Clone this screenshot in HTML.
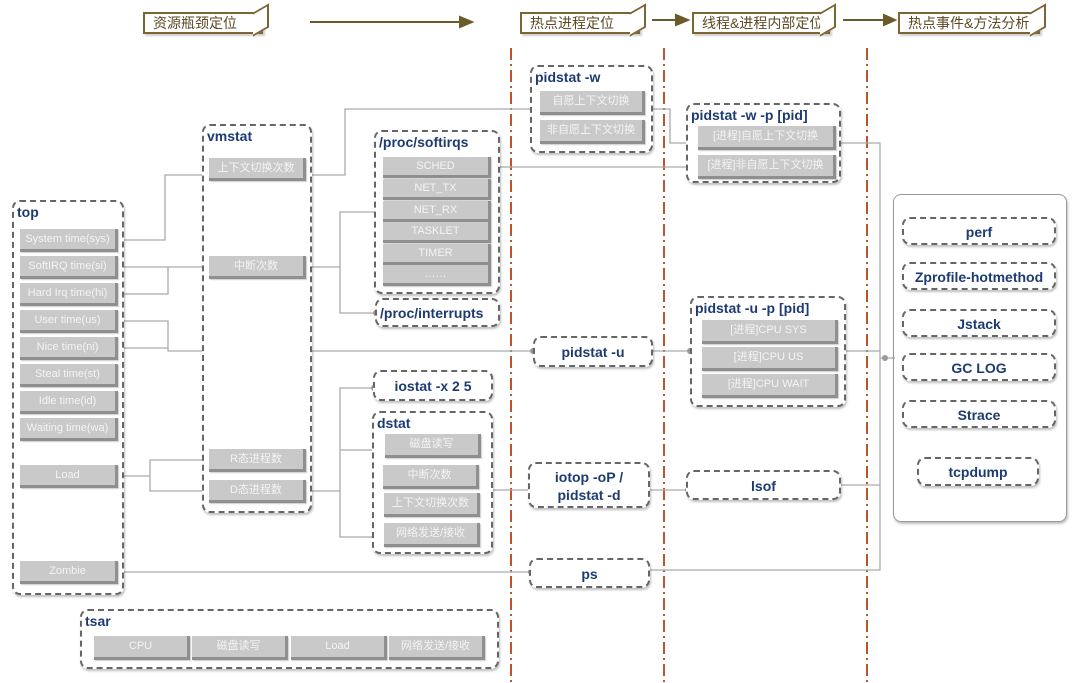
<!DOCTYPE html>
<html><head><meta charset="utf-8"><style>
body{margin:0;width:1080px;height:683px;background:#fff;position:relative;overflow:hidden;font-family:"Liberation Sans","Noto Sans CJK SC",sans-serif}
.b{position:absolute;border:2px dashed #666;border-radius:8px;box-sizing:border-box;box-shadow:1px 2px 2px rgba(0,0,0,.25);background:#fff}
.t{position:absolute;left:3px;top:2px;color:#1d3b72;font-weight:bold;font-size:14px}
.c{position:absolute;color:#1d3b72;font-weight:bold;font-size:14px;text-align:center;width:100%}
.i{position:absolute;background:#c9c9c9;color:#f4f4f4;font-size:11px;text-align:center;box-sizing:border-box;border-right:3px solid #8f8f8f;border-bottom:3px solid #8f8f8f;box-shadow:1px 1px 1px rgba(0,0,0,.2)}
.h{position:absolute;height:22px;border:2px solid #7a6533;box-sizing:border-box;color:#5b4a22;font-size:14px;line-height:18px;padding-left:8px;box-shadow:2px 2px 2px rgba(0,0,0,.2);background:#fff}
.h:after{content:"";position:absolute;right:-8px;top:-6px;width:14px;height:20px;border:2px solid #7a6533;border-left:none;transform:skewY(-30deg);background:#fff}
svg{position:absolute;left:0;top:0}
</style></head><body>
<svg width="1080" height="683">
<g stroke="#c0532a" stroke-width="2" stroke-dasharray="12,4,2,4" fill="none">
<line x1="511" y1="48" x2="511" y2="683"/><line x1="664" y1="48" x2="664" y2="683"/><line x1="867" y1="48" x2="867" y2="683"/></g>
<g stroke="#6b5a2a" stroke-width="2" fill="#6b5a2a">
<line x1="310" y1="22" x2="462" y2="22"/><polygon points="472,22 460,17 460,27"/>
<line x1="652" y1="20" x2="678" y2="20"/><polygon points="688,20 676,15 676,25"/>
<line x1="843" y1="20" x2="886" y2="20"/><polygon points="895,20 884,15 884,25"/></g>
<g stroke="#aaa" stroke-width="1.3" fill="none">
<path d="M118 240H165V175H210"/>
<path d="M305 175H345V109H540"/>
<path d="M118 267H210M118 294H168V267"/>
<path d="M305 267H340V212H383M340 267V313H376"/>
<path d="M490 167H700"/>
<path d="M645 109H670V143H700"/>
<path d="M118 321H168V351H533M118 348H168"/>
<path d="M652 351H692"/>
<path d="M118 476H150V460H210M150 476V491H210"/>
<path d="M305 491H340V388H374M340 450H383M340 491V537H383"/>
<path d="M492 490H531M650 490H688"/>
<path d="M118 572H531"/>
<path d="M840 143H880V570H650M840 485H880M845 351H880M880 358H895"/>
</g>
<g fill="#999">
<circle cx="208" cy="175" r="3"/><circle cx="208" cy="267" r="3"/><circle cx="540" cy="109" r="3"/><circle cx="380" cy="212" r="3"/><circle cx="376" cy="313" r="3"/>
<circle cx="698" cy="143" r="3"/><circle cx="698" cy="167" r="3"/><circle cx="533" cy="351" r="3"/><circle cx="690" cy="351" r="3"/>
<circle cx="208" cy="460" r="3"/><circle cx="208" cy="491" r="3"/><circle cx="374" cy="388" r="3"/><circle cx="382" cy="450" r="3"/><circle cx="382" cy="537" r="3"/>
<circle cx="531" cy="490" r="3"/><circle cx="688" cy="490" r="3"/><circle cx="531" cy="572" r="3"/><circle cx="885" cy="358" r="3"/></g>
</svg>
<div class="h" style="left:143px;top:12px;width:120px">资源瓶颈定位</div>
<div class="h" style="left:520px;top:12px;width:120px">热点进程定位</div>
<div class="h" style="left:692px;top:12px;width:138px">线程&amp;进程内部定位</div>
<div class="h" style="left:898px;top:12px;width:142px">热点事件&amp;方法分析</div>

<div class="b" style="left:12px;top:200px;width:112px;height:395px"><div class="t">top</div></div>
<div class="i" style="left:20px;top:229px;width:98px;height:23px;line-height:20px">System time(sys)</div>
<div class="i" style="left:20px;top:256px;width:98px;height:23px;line-height:20px">SoftIRQ time(si)</div>
<div class="i" style="left:20px;top:283px;width:98px;height:23px;line-height:20px">Hard Irq time(hi)</div>
<div class="i" style="left:20px;top:310px;width:98px;height:23px;line-height:20px">User time(us)</div>
<div class="i" style="left:20px;top:337px;width:98px;height:23px;line-height:20px">Nice time(ni)</div>
<div class="i" style="left:20px;top:364px;width:98px;height:23px;line-height:20px">Steal time(st)</div>
<div class="i" style="left:20px;top:391px;width:98px;height:23px;line-height:20px">Idle time(id)</div>
<div class="i" style="left:20px;top:418px;width:98px;height:23px;line-height:20px">Waiting time(wa)</div>
<div class="i" style="left:20px;top:465px;width:98px;height:23px;line-height:20px">Load</div>
<div class="i" style="left:20px;top:561px;width:98px;height:23px;line-height:20px">Zombie</div>

<div class="b" style="left:202px;top:124px;width:110px;height:389px"><div class="t">vmstat</div></div>
<div class="i" style="left:209px;top:158px;width:97px;height:23px;line-height:20px">上下文切换次数</div>
<div class="i" style="left:209px;top:256px;width:97px;height:23px;line-height:20px">中断次数</div>
<div class="i" style="left:209px;top:449px;width:97px;height:23px;line-height:20px">R态进程数</div>
<div class="i" style="left:209px;top:480px;width:97px;height:23px;line-height:20px">D态进程数</div>

<div class="b" style="left:374px;top:130px;width:126px;height:164px"><div class="t">/proc/softirqs</div></div>
<div class="i" style="left:383px;top:157px;width:108px;height:21px;line-height:18px">SCHED</div>
<div class="i" style="left:383px;top:179px;width:108px;height:21px;line-height:18px">NET_TX</div>
<div class="i" style="left:383px;top:201px;width:108px;height:21px;line-height:18px">NET_RX</div>
<div class="i" style="left:383px;top:222px;width:108px;height:21px;line-height:18px">TASKLET</div>
<div class="i" style="left:383px;top:244px;width:108px;height:21px;line-height:18px">TIMER</div>
<div class="i" style="left:383px;top:265px;width:108px;height:21px;line-height:18px">……</div>
<div class="b" style="left:375px;top:298px;width:125px;height:29px"><div class="t" style="top:5px">/proc/interrupts</div></div>

<div class="b" style="left:530px;top:65px;width:123px;height:88px"><div class="t">pidstat -w</div></div>
<div class="i" style="left:540px;top:91px;width:105px;height:24px;line-height:21px">自愿上下文切换</div>
<div class="i" style="left:540px;top:120px;width:105px;height:24px;line-height:21px">非自愿上下文切换</div>
<div class="b" style="left:686px;top:103px;width:155px;height:80px"><div class="t">pidstat -w -p [pid]</div></div>
<div class="i" style="left:698px;top:126px;width:138px;height:24px;line-height:21px">[进程]自愿上下文切换</div>
<div class="i" style="left:698px;top:155px;width:138px;height:24px;line-height:21px">[进程]非自愿上下文切换</div>

<div class="b" style="left:533px;top:336px;width:120px;height:31px"><div class="c" style="top:6px">pidstat -u</div></div>
<div class="b" style="left:690px;top:296px;width:156px;height:111px"><div class="t">pidstat -u -p [pid]</div></div>
<div class="i" style="left:702px;top:320px;width:136px;height:24px;line-height:21px">[进程]CPU SYS</div>
<div class="i" style="left:702px;top:347px;width:136px;height:24px;line-height:21px">[进程]CPU US</div>
<div class="i" style="left:702px;top:374px;width:136px;height:24px;line-height:21px">[进程]CPU WAIT</div>

<div class="b" style="left:373px;top:370px;width:120px;height:31px"><div class="c" style="top:6px">iostat -x 2 5</div></div>
<div class="b" style="left:372px;top:411px;width:121px;height:143px"><div class="t">dstat</div></div>
<div class="i" style="left:385px;top:434px;width:96px;height:24px;line-height:21px">磁盘读写</div>
<div class="i" style="left:383px;top:465px;width:96px;height:24px;line-height:21px">中断次数</div>
<div class="i" style="left:384px;top:493px;width:96px;height:24px;line-height:21px">上下文切换次数</div>
<div class="i" style="left:384px;top:523px;width:96px;height:24px;line-height:21px">网络发送/接收</div>

<div class="b" style="left:528px;top:462px;width:122px;height:46px"><div class="c" style="top:4px;line-height:18px">iotop -oP /<br>pidstat -d</div></div>
<div class="b" style="left:686px;top:470px;width:155px;height:30px"><div class="c" style="top:6px">lsof</div></div>
<div class="b" style="left:529px;top:558px;width:121px;height:30px"><div class="c" style="top:6px">ps</div></div>

<div style="position:absolute;left:893px;top:194px;width:174px;height:328px;border:1.5px solid #999;border-radius:8px;box-sizing:border-box;box-shadow:1px 2px 2px rgba(0,0,0,.25)"></div>
<div class="b" style="left:902px;top:217px;width:154px;height:28px"><div class="c" style="top:5px">perf</div></div>
<div class="b" style="left:902px;top:262px;width:154px;height:28px"><div class="c" style="top:5px">Zprofile-hotmethod</div></div>
<div class="b" style="left:902px;top:309px;width:154px;height:28px"><div class="c" style="top:5px">Jstack</div></div>
<div class="b" style="left:902px;top:353px;width:154px;height:28px"><div class="c" style="top:5px">GC LOG</div></div>
<div class="b" style="left:902px;top:400px;width:154px;height:28px"><div class="c" style="top:5px">Strace</div></div>
<div class="b" style="left:917px;top:457px;width:122px;height:29px"><div class="c" style="top:5px">tcpdump</div></div>

<div class="b" style="left:80px;top:609px;width:419px;height:60px"><div class="t">tsar</div></div>
<div class="i" style="left:94px;top:636px;width:96px;height:24px;line-height:21px">CPU</div>
<div class="i" style="left:192px;top:636px;width:96px;height:24px;line-height:21px">磁盘读写</div>
<div class="i" style="left:291px;top:636px;width:96px;height:24px;line-height:21px">Load</div>
<div class="i" style="left:389px;top:636px;width:96px;height:24px;line-height:21px">网络发送/接收</div>
</body></html>
